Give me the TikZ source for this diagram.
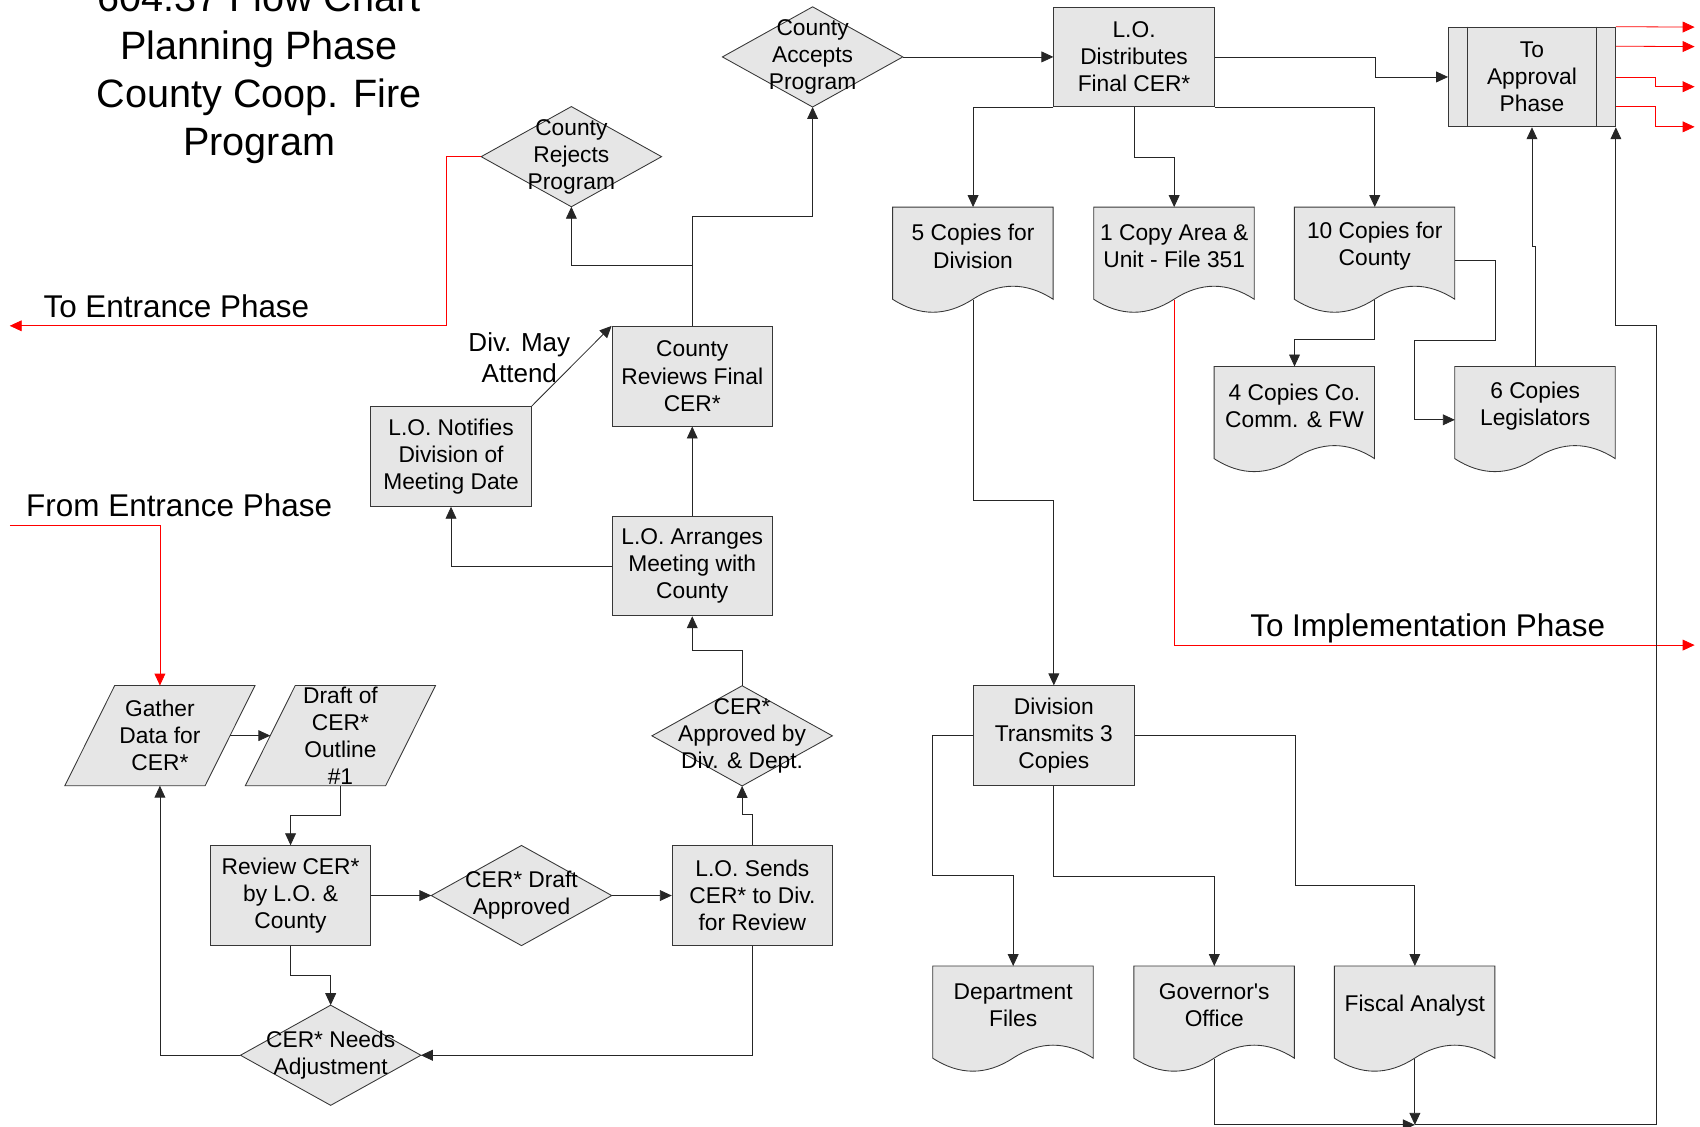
\documentclass[tikz,border=0pt]{standalone}
\usepackage{fontspec}
\setmainfont{Liberation Sans}
\usetikzlibrary{arrows.meta,backgrounds,calc}
\definecolor{shapegray}{RGB}{230,230,230}
\definecolor{edgegray}{RGB}{55,55,55}
\begin{document}
\begin{tikzpicture}[x=1pt,y=-1pt,
  every node/.style={inner sep=0pt, align=center},
  nodefont/.style={font=\fontsize{21}{25}\selectfont},
  procbox/.style={nodefont, rectangle, draw=edgegray, line width=0.8pt, fill=shapegray, minimum width=148pt, minimum height=92pt},
  diabox/.style={nodefont, rectangle, minimum width=166pt, minimum height=92pt},
  parabox/.style={nodefont, rectangle, minimum width=129pt, minimum height=92pt},
  docbox/.style={nodefont, rectangle, minimum width=148pt, minimum height=72pt, anchor=north},
  shapeline/.style={draw=edgegray, line width=0.8pt, fill=shapegray},
  conn/.style={draw=black!85, line width=0.75pt, -{Triangle[length=11pt,width=10pt]}},
  redconn/.style={draw=red, line width=0.75pt, -{Triangle[length=11pt,width=10pt]}},
  bigtext/.style={font=\fontsize{29}{34}\selectfont},
  titletext/.style={font=\fontsize{36.5}{44}\selectfont},
  divtext/.style={font=\fontsize{24}{28}\selectfont},
]
\useasboundingbox (0,0) rectangle (1568,1039);

% title and free texts
\node[titletext] (title) at (239,67.6) {604.37 Flow Chart\\Planning Phase\\County Coop. Fire\\Program};
\node[bigtext, anchor=base west] (tentr) at (40,292.5) {To Entrance Phase};
\node[bigtext, anchor=base west] (fentr) at (24,476.5) {From Entrance Phase};
\node[bigtext, anchor=base west] (timpl) at (1153,587) {To Implementation Phase};
\node[divtext] (divmay) at (479,330) {Div. May\\Attend};

% shapes
\node[diabox] (acc) at (749.5,52.5) {County\\Accepts\\Program};
\node[procbox] (dist) at (1046,52.5) {L.O.\\Distributes\\Final CER*};
\node[procbox, minimum width=154pt] (ap) at (1413,71) {To\\Approval\\Phase};
\node[diabox] (rej) at (527,144.5) {County\\Rejects\\Program};
\node[procbox] (rev) at (638.5,347) {County\\Reviews Final\\CER*};
\node[procbox] (notif) at (416,421) {L.O. Notifies\\Division of\\Meeting Date};
\node[procbox] (arr) at (638.5,522) {L.O. Arranges\\Meeting with\\County};
\node[procbox] (trans) at (972,678.5) {Division\\Transmits 3\\Copies};
\node[parabox] (gather) at (147.5,678.5) {Gather\\Data for\\CER*};
\node[parabox] (draft) at (314,678.5) {Draft of\\CER*\\Outline\\\#1};
\node[diabox] (appdiv) at (684.5,678.7) {CER*\\Approved by\\Div. \& Dept.};
\node[procbox] (review) at (268,826) {Review CER*\\by L.O. \&\\County};
\node[diabox] (dapp) at (481,826) {CER* Draft\\Approved};
\node[procbox] (sends) at (694,826) {L.O. Sends\\CER* to Div.\\for Review};
\node[diabox] (adj) at (305,973.3) {CER* Needs\\Adjustment};

\node[docbox] (doc5) at (897.5,191) {5 Copies for\\Division};
\node[docbox] (doc1) at (1083,191) {1 Copy Area \&\\Unit - File 351};
\node[docbox] (doc10) at (1268,191) {10 Copies for\\County};
\node[docbox] (doc4) at (1194,338) {4 Copies Co.\\Comm. \& FW};
\node[docbox] (doc6) at (1416,338) {6 Copies\\Legislators};
\node[docbox] (dept) at (934.5,891) {Department\\Files};
\node[docbox] (gov) at (1120,891) {Governor\textquotesingle s\\Office};
\node[docbox] (fisc) at (1305,891) {Fiscal Analyst};

% bottom points of document shapes and free ends
\foreach \n in {doc5,doc1,doc10,doc4,doc6,dept,gov,fisc}
  \coordinate (\n b) at ([yshift=-13pt]\n.south);
\coordinate (toentr) at (9,300.5);
\coordinate (fromentr) at (9,485);
\coordinate (toimpl) at (1563,595);
\coordinate (r1) at (1563,25);
\coordinate (r2) at (1563,43);
\coordinate (r3) at (1563,80);
\coordinate (r4) at (1563,117);
\coordinate (junc) at (1305,1037.5);

% outlines behind texts
\begin{scope}[on background layer]
  \foreach \n in {acc,rej,appdiv,dapp,adj}
    \filldraw[shapeline] (\n.north) -- (\n.east) -- (\n.south) -- (\n.west) -- cycle;
  \foreach \n in {gather,draft}
    \filldraw[shapeline] ([xshift=23pt]\n.north west) -- ([xshift=23pt]\n.north east) -- ([xshift=-23pt]\n.south east) -- ([xshift=-23pt]\n.south west) -- cycle;
  \foreach \n in {doc5,doc1,doc10,doc4,doc6,dept,gov,fisc}
    \filldraw[shapeline, shift={(\n.north west)}] (0,0) -- (148,0) -- (148,85) .. controls (123.3,69) and (98.7,69) .. (74,85) .. controls (49.3,101) and (24.7,101) .. (0,85) -- cycle;
\end{scope}

% predefined process inner lines
\draw[edgegray, line width=0.8pt] ([xshift=18pt]ap.north west) -- ([xshift=18pt]ap.south west)
  ([xshift=-18pt]ap.north east) -- ([xshift=-18pt]ap.south east);

% connectors
\draw[conn] (acc.east) -- (dist.west);
\draw[conn] (dist.east) -- ++(148,0) |- (ap.west);
\draw[conn] (dist.south west) -| (doc5.north);
\draw[conn] (dist.south) -- ++(0,46) -| (doc1.north);
\draw[conn] (dist.south east) -| (doc10.north);
\draw[conn] (rev.north) -- ++(0,-101) -| (acc.south);
\draw[conn] (rev.north) -- ++(0,-56) -| (rej.south);
\draw[redconn] (rej.west) -- ++(-32.5,0) |- (toentr);
\draw[redconn] (fromentr) -| (gather.north);
\draw[conn] (arr.north) -- (rev.south);
\draw[conn] (arr.west) -| (notif.south);
\draw[conn] (notif.north east) -- (rev.north west);
\draw[conn] (appdiv.north) -- ++(0,-33) -| (arr.south);
\draw[conn] (gather.east) -- (draft.west);
\draw[conn] (draft.south) -- ++(0,27) -| (review.north);
\draw[conn] (review.east) -- (dapp.west);
\draw[conn] (dapp.east) -- (sends.west);
\draw[conn] (sends.north) -- ++(0,-28) -| (appdiv.south);
\draw[conn] (sends.south) |- (adj.east);
\draw[conn] (review.south) -- ++(0,27) -| (adj.north);
\draw[conn] (adj.west) -| (gather.south);
\draw[conn] (doc5b) -- ++(0,185) -| (trans.north);
\draw[conn] (trans.west) -- ++(-37.5,0) -- ++(0,129) -| (dept.north);
\draw[conn] (trans.south) -- ++(0,83) -| (gov.north);
\draw[conn] (trans.east) -- ++(148,0) -- ++(0,138.5) -| (fisc.north);
\draw[conn] (doc10b) -- ++(0,37) -| (doc4.north);
\draw[conn] ([yshift=-13pt]doc10.east) -- ++(37,0) -- ++(0,73.5) -- ++(-74.5,0) |- ([yshift=-13pt]doc6.west);
\draw[conn] (doc6.north) -- ++(0,-110.5) -| (ap.south);
\draw[redconn] (doc1b) |- (toimpl);
\draw[conn] (govb) |- (junc);
\draw[conn] (fiscb) -- (junc);
\draw[conn] (junc) -- ++(222.5,0) -- ++(0,-737.5) -| (ap.south east);
\draw[redconn] (ap.north east) -- (r1);
\draw[redconn] ([yshift=-18pt]ap.north east) -- (r2);
\draw[redconn] (ap.east) -- ++(36,0) |- (r3);
\draw[redconn] ([yshift=-73.5pt]ap.north east) -- ++(36,0) |- (r4);
\end{tikzpicture}
\end{document}
